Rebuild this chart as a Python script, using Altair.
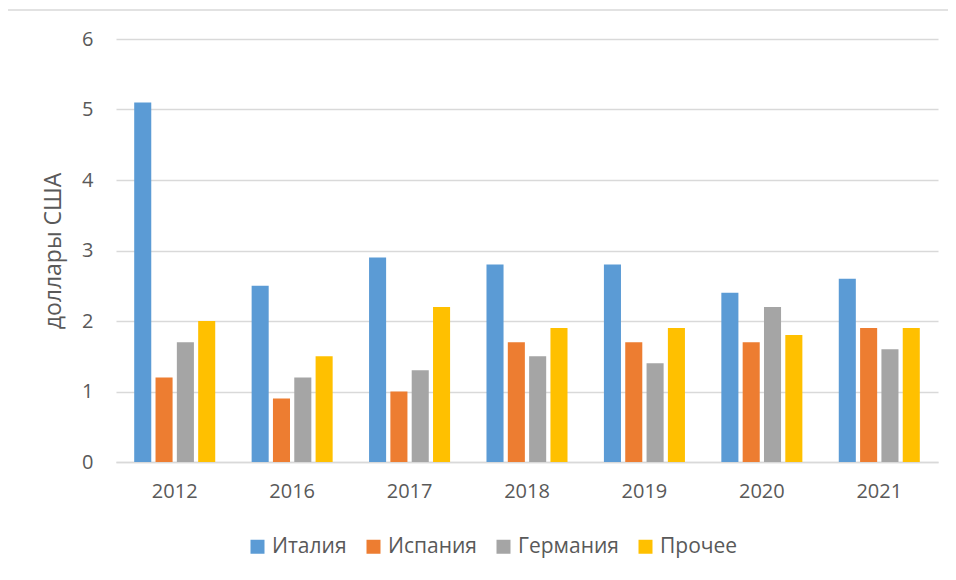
import altair as alt
import pandas as pd

years = ["2012", "2016", "2017", "2018", "2019", "2020", "2021"]
series = ["Италия", "Испания", "Германия", "Прочее"]
italy = [5.1, 2.5, 2.9, 2.8, 2.8, 2.4, 2.6]
spain = [1.2, 0.9, 1.0, 1.7, 1.7, 1.7, 1.9]
germany = [1.7, 1.2, 1.3, 1.5, 1.4, 2.2, 1.6]
other = [2.0, 1.5, 2.2, 1.9, 1.9, 1.8, 1.9]
colors = ["#5B9BD5", "#ED7D31", "#A5A5A5", "#FFC000"]

rows = []
for name, vals in zip(series, [italy, spain, germany, other]):
    for y, v in zip(years, vals):
        rows.append({"year": y, "series": name, "value": v})
df = pd.DataFrame(rows)

FONT = "Open Sans"
TXT = "#595959"

bars = alt.Chart(df).mark_bar().encode(
    x=alt.X("year:N", sort=years,
            scale=alt.Scale(paddingInner=0.31, paddingOuter=0.155),
            axis=alt.Axis(title=None, labelAngle=0, labelFontSize=20, labelColor=TXT,
                          labelFont=FONT, labelPadding=19, ticks=False,
                          domainColor="#D9D9D9", domainWidth=1.5, grid=False)),
    xOffset=alt.XOffset("series:N", sort=series, scale=alt.Scale(paddingInner=0.2)),
    y=alt.Y("value:Q", scale=alt.Scale(domain=[0, 6]),
            axis=alt.Axis(title="доллары США", values=[0, 1, 2, 3, 4, 5, 6], format="d",
                          labelFontSize=20, labelColor=TXT, labelFont=FONT,
                          labelPadding=23, ticks=False, domain=False,
                          gridColor="#D9D9D9", gridWidth=1.5,
                          titleFontSize=23, titleFont=FONT, titleColor=TXT,
                          titleFontWeight="normal", titlePadding=16)),
    color=alt.Color("series:N", sort=series,
                    scale=alt.Scale(domain=series, range=colors),
                    legend=alt.Legend(title=None, orient="none", direction="horizontal",
                                      legendX=131, legendY=497,
                                      symbolType="square", symbolSize=196,
                                      symbolStrokeWidth=0,
                                      labelFontSize=21, labelFont=FONT, labelColor=TXT,
                                      columnPadding=16, labelOffset=4)),
)

border_top = alt.Chart(pd.DataFrame({"k": [0]})).mark_rule(color="#D9D9D9", strokeWidth=1.5).encode(
    x=alt.value(-109), x2=alt.value(860), y=alt.value(-29))
border_left = alt.Chart(pd.DataFrame({"k": [0]})).mark_rule(color="#D9D9D9", strokeWidth=1.5).encode(
    x=alt.value(-109), y=alt.value(-29), y2=alt.value(560))

chart = alt.layer(bars, border_top, border_left).properties(
    width=822, height=423,
    autosize=alt.AutoSizeParams(type="none"),
    padding={"left": 108, "top": 31, "right": 10, "bottom": 110},
    background="white",
).configure_view(stroke=None)

chart.save("out.html", embed_options={"renderer": "svg", "actions": False})
